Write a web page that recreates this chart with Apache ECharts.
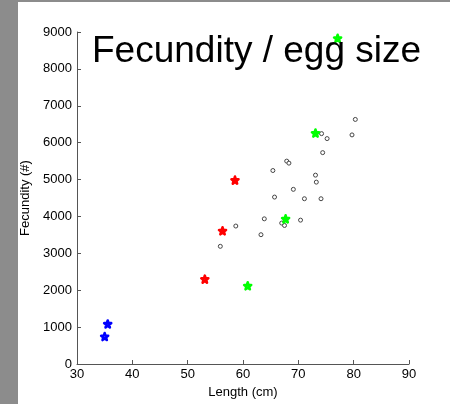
<!DOCTYPE html>
<html>
<head>
<meta charset="utf-8">
<script src="https://cdn.jsdelivr.net/npm/echarts@6/dist/echarts.min.js"></script>
<style>
  html, body { margin: 0; padding: 0; background: #fff; }
  #wrap { width: 450px; height: 404px; position: relative; box-sizing: border-box;
          border-left: 18px solid #8c8c8c; border-top: 2px solid #8c8c8c; }
  #chart { position: absolute; left: -18px; top: -2px; width: 450px; height: 404px; }
</style>
</head>
<body>
<div id="wrap"><div id="chart"></div></div>
<script>
// length (cm), fecundity (#)
const otherFish = [
  [80.3, 6630], [79.7, 6210], [74.2, 6245], [75.2, 6110], [74.4, 5730],
  [67.9, 5500], [68.3, 5445], [65.4, 5245], [73.1, 5120], [73.25, 4930],
  [69.1, 4735], [65.7, 4525], [71.1, 4480], [74.1, 4480], [63.85, 3935],
  [67.0, 3820], [67.5, 3755], [70.4, 3900], [58.7, 3740], [63.25, 3505],
  [55.9, 3190]
]
const greenFish = [[77.1, 8830], [73.1, 6260], [67.7, 3935], [60.85, 2120]]
const redFish = [[58.55, 4985], [56.3, 3610], [53.1, 2300]]
const blueFish = [[35.55, 1085], [35.0, 745]]

const xTicks = [30, 90, 10]
const yTicks = [0, 9000, 1000]

// 五角星
const star = 'path://M50 0 L61.23 34.55 L97.55 34.55 L68.17 55.9 L79.39 90.45 L50 69.1 L20.61 90.45 L31.83 55.9 L2.45 34.55 L38.77 34.55 Z'

const axisColor = '#555'
const font = 'Liberation Sans, Arial, sans-serif'

function starSeries(data, color) {
  return {
    type: 'scatter',
    data,
    symbol: star,
    symbolSize: 7,
    itemStyle: { color: '#fff', borderColor: color, borderWidth: 2.6, borderJoin: 'round', opacity: 1 },
    z: 3
  }
}

const chart = echarts.init(document.getElementById('chart'))
chart.setOption({
  backgroundColor: 'transparent',
  animation: false,
  title: {
    text: 'Fecundity / egg size',
    left: 87,
    top: 28,
    textStyle: { color: '#000', fontSize: 37, fontWeight: 'normal', fontFamily: font }
  },
  grid: { left: 77, right: 41, top: 32, bottom: 38 },
  xAxis: {
    type: 'value',
    min: xTicks[0], max: xTicks[1], interval: xTicks[2],
    name: 'Length (cm)',
    nameLocation: 'middle',
    nameGap: 22,
    nameTextStyle: { color: '#000', fontSize: 13, fontFamily: font },
    axisLine: { lineStyle: { color: axisColor, width: 1 } },
    axisTick: { inside: true, length: 4, lineStyle: { color: axisColor } },
    axisLabel: { color: '#000', fontSize: 13, fontFamily: font, margin: 4 },
    splitLine: { show: false }
  },
  yAxis: {
    type: 'value',
    min: yTicks[0], max: yTicks[1], interval: yTicks[2],
    name: 'Fecundity (#)',
    nameLocation: 'middle',
    nameGap: 28,
    nameTextStyle: { color: '#000', fontSize: 13, fontFamily: font },
    axisLine: { show: true, lineStyle: { color: axisColor, width: 1 } },
    axisTick: { show: true, inside: true, length: 4, lineStyle: { color: axisColor } },
    axisLabel: { color: '#000', fontSize: 13, fontFamily: font, margin: 5, formatter: v => String(v) },
    splitLine: { show: false }
  },
  series: [
    {
      type: 'scatter',
      data: otherFish,
      symbol: 'circle',
      symbolSize: 4,
      itemStyle: { color: '#fff', borderColor: '#444', borderWidth: 1, opacity: 1 },
      z: 2
    },
    starSeries(greenFish, '#00ff00'),
    starSeries(redFish, '#ff0000'),
    starSeries(blueFish, '#0000ff')
  ]
})
</script>
</body>
</html>
